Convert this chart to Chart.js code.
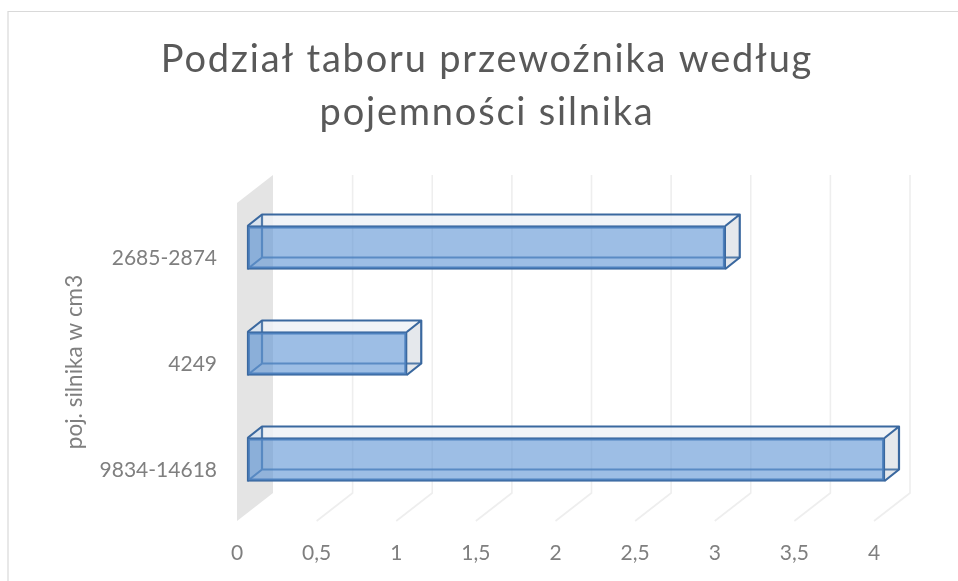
<!DOCTYPE html>
<html><head><meta charset="utf-8">
<style>html,body{margin:0;padding:0;background:#fff;overflow:hidden}canvas{display:block}</style>
<script src="https://cdn.jsdelivr.net/npm/chart.js@4"></script></head>
<body><canvas id="c" width="958" height="581"></canvas>
<script>
const titleLines = ["Podział taboru przewoźnika według", "pojemności silnika"];
const categories = ["2685-2874", "4249", "9834-14618"];
const values = [3, 1, 4];
const axisTitle = "poj. silnika w cm3";
const tickValueMax = 4;
const tickStep = 0.5;

const FONT = "Lato, 'Open Sans', sans-serif";
const wall = {dx: 36, dy: -28};
const box = {ox: 10.5, oy: -8.5, dx: 14.5, dy: -11.5};
const edge = "#3a689f";

const scene = {
  id: "scene",
  afterLayout(chart) {
    const tb = chart.titleBlock;
    if (tb && !tb._spaced) {
      const orig = tb.draw;
      tb.draw = function () {
        const c = this.ctx;
        c.save();
        c.letterSpacing = "1.8px";
        orig.call(this);
        c.restore();
      };
      tb._spaced = true;
    }
  },
  beforeDraw(chart) {
    const c = chart.ctx, a = chart.chartArea, xs = chart.scales.x;
    c.save();
    c.fillStyle = "#fff"; c.fillRect(0, 0, chart.width, chart.height);
    c.strokeStyle = "#d9d9d9"; c.lineWidth = 1.2;
    c.beginPath(); c.moveTo(8, chart.height); c.lineTo(8, 11.5); c.lineTo(chart.width, 11.5); c.stroke();
    c.fillStyle = "#e4e4e4";
    c.beginPath();
    c.moveTo(a.left, a.top); c.lineTo(a.left + wall.dx, a.top + wall.dy);
    c.lineTo(a.left + wall.dx, a.bottom + wall.dy); c.lineTo(a.left, a.bottom); c.closePath(); c.fill();
    c.strokeStyle = "#eeeeee"; c.lineWidth = 1.6;
    xs.ticks.forEach(t => {
      const x = xs.getPixelForValue(t.value);
      if (t.value === 0) return;
      c.beginPath();
      c.moveTo(x + wall.dx, a.top + wall.dy);
      c.lineTo(x + wall.dx, a.bottom + wall.dy);
      c.lineTo(x, a.bottom);
      c.stroke();
    });
    c.restore();
  },
  beforeDatasetsDraw(chart) {
    const c = chart.ctx;
    c.save();
    chart.getDatasetMeta(0).data.forEach(el => {
      const L = el.base + box.ox, R = el.x + box.ox;
      const T = el.y - el.height / 2 + box.oy, B = el.y + el.height / 2 + box.oy;
      const d = box.dx, e = box.dy;
      c.fillStyle = "rgba(238,241,246,0.8)";
      c.beginPath(); c.moveTo(L, T); c.lineTo(L + d, T + e); c.lineTo(R + d, T + e); c.lineTo(R, T); c.closePath(); c.fill();
      c.fillStyle = "rgba(224,228,233,0.85)";
      c.beginPath(); c.moveTo(R, T); c.lineTo(R + d, T + e); c.lineTo(R + d, B + e); c.lineTo(R, B); c.closePath(); c.fill();
      c.fillStyle = "rgba(91,146,211,0.12)";
      c.beginPath(); c.moveTo(L, T); c.lineTo(L + d, T + e); c.lineTo(L + d, B + e); c.lineTo(L, B); c.closePath(); c.fill();
      c.strokeStyle = edge; c.lineWidth = 2.2; c.lineJoin = "round";
      c.beginPath();
      c.moveTo(L, T); c.lineTo(L + d, T + e); c.lineTo(R + d, T + e); c.lineTo(R, T);
      c.moveTo(R + d, T + e); c.lineTo(R + d, B + e); c.lineTo(R, B);
      c.stroke();
      c.strokeStyle = "rgba(58,104,159,0.85)";
      c.beginPath();
      c.moveTo(L + d, T + e); c.lineTo(L + d, B + e); c.lineTo(R + d, B + e);
      c.moveTo(L + d, B + e); c.lineTo(L, B);
      c.stroke();
    });
    c.restore();
    c.save();
    c.translate(box.ox, box.oy);
  },
  afterDatasetsDraw(chart) { chart.ctx.restore(); }
};

new Chart(document.getElementById("c"), {
  type: "bar",
  plugins: [scene],
  data: {
    labels: categories,
    datasets: [{
      data: values,
      backgroundColor: "rgba(91,146,211,0.6)",
      borderColor: edge,
      borderWidth: 1.6,
      borderSkipped: false,
      inflateAmount: 0.8,
      barThickness: 43,
      clip: false
    }]
  },
  options: {
    indexAxis: "y",
    responsive: false,
    animation: false,
    layout: {padding: {left: 65, right: 49, top: 0, bottom: 0}},
    plugins: {
      legend: {display: false},
      tooltip: {enabled: false},
      title: {
        display: true,
        text: titleLines,
        color: "#595959",
        font: {family: FONT, size: 38, weight: "normal", lineHeight: "53px"},
        padding: {top: 33, bottom: 64}
      }
    },
    scales: {
      x: {
        type: "linear", min: 0, max: tickValueMax,
        grid: {display: false, drawTicks: false},
        border: {display: false},
        ticks: {
          stepSize: tickStep, padding: 20, color: "#7f7f7f", maxRotation: 0, autoSkip: false,
          font: {family: FONT, size: 21},
          callback: v => String(v).replace(".", ",")
        },
        afterFit(s) { s.height = 60; }
      },
      y: {
        grid: {display: false, drawTicks: false},
        border: {display: false},
        ticks: {padding: 20, labelOffset: 2.5, color: "#7f7f7f", font: {family: FONT, size: 21}},
        title: {display: true, text: axisTitle, color: "#7f7f7f", padding: 0,
                font: {family: FONT, size: 22.5, lineHeight: "20px"}},
        afterFit(s) { s.width = 172; }
      },
      depth: {
        type: "linear", position: "right", display: true,
        grid: {display: false, drawTicks: false},
        border: {display: false},
        ticks: {display: false},
        afterFit(s) { s.width = 35; }
      }
    }
  }
});
</script></body></html>
